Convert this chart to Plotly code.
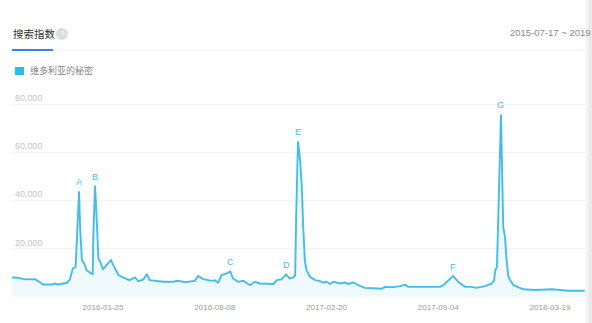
import plotly.graph_objects as go

# ---------------- data ----------------
dates = [
    "2015-08-18", "2015-08-29", "2015-09-10", "2015-09-28", "2015-10-03", "2015-10-12",
    "2015-10-27", "2015-11-02", "2015-11-07", "2015-11-23", "2015-11-28", "2015-12-03",
    "2015-12-08", "2015-12-10", "2015-12-14", "2015-12-16", "2015-12-19", "2015-12-23",
    "2015-12-27", "2016-01-04", "2016-01-07", "2016-01-08", "2016-01-11", "2016-01-14",
    "2016-01-17", "2016-01-20", "2016-01-25", "2016-01-31", "2016-02-08", "2016-02-12",
    "2016-02-21", "2016-03-04", "2016-03-12", "2016-03-21", "2016-03-27", "2016-04-05",
    "2016-04-11", "2016-04-16", "2016-04-25", "2016-05-10", "2016-05-27", "2016-06-02",
    "2016-06-14", "2016-06-20", "2016-07-04", "2016-07-10", "2016-07-19", "2016-08-03",
    "2016-08-08", "2016-08-14", "2016-08-20", "2016-08-29", "2016-09-04", "2016-09-09",
    "2016-09-18", "2016-09-27", "2016-10-09", "2016-10-17", "2016-10-26", "2016-11-19",
    "2016-11-25", "2016-12-03", "2016-12-11", "2016-12-17", "2016-12-24", "2016-12-27",
    "2016-12-29", "2017-01-01", "2017-01-05", "2017-01-08", "2017-01-10", "2017-01-13",
    "2017-01-16", "2017-01-22", "2017-01-31", "2017-02-09", "2017-02-14", "2017-02-20",
    "2017-02-26", "2017-03-04", "2017-03-16", "2017-03-24", "2017-03-30", "2017-04-08",
    "2017-04-17", "2017-04-28", "2017-05-13", "2017-05-28", "2017-06-02", "2017-06-17",
    "2017-06-29", "2017-07-08", "2017-07-13", "2017-07-28", "2017-08-20", "2017-09-07",
    "2017-09-13", "2017-09-21", "2017-09-30", "2017-10-09", "2017-10-21", "2017-11-02",
    "2017-11-10", "2017-11-25", "2017-12-07", "2017-12-11", "2017-12-13", "2017-12-16",
    "2017-12-20", "2017-12-23", "2017-12-27", "2017-12-30", "2018-01-02", "2018-01-05",
    "2018-01-08", "2018-01-14", "2018-01-31", "2018-02-21", "2018-03-22", "2018-04-20",
    "2018-05-19",
]
values = [
    8100, 8000, 7300, 7400, 6600, 5200,
    5200, 5600, 5200, 5900, 7300, 11800,
    12500, 25000, 43800, 28000, 15300, 13900,
    11100, 9800, 9500, 25000, 46200, 32000,
    16000, 14600, 11400, 13200, 15300, 13200,
    9100, 7700, 7000, 8100, 6600, 7300,
    9500, 7000, 6700, 6300, 6300, 6700,
    6300, 6200, 6700, 8700, 7400, 6700,
    6900, 6000, 9100, 9800, 10600, 7700,
    6300, 6700, 4900, 6300, 5600, 5400,
    7000, 7300, 9400, 7700, 8100, 9000,
    35000, 64500, 56000, 44000, 30000, 15000,
    11100, 8400, 7000, 6600, 5900, 6300,
    5400, 6300, 5600, 6000, 5400, 6000,
    4900, 3800, 3600, 3400, 4200, 4100,
    4500, 5100, 4200, 4200, 4500, 4200,
    4900, 6700, 8800, 6300, 4200, 4200,
    3800, 4500, 5600, 7000, 11100, 12500,
    55000, 75700, 29000, 25000, 15000, 8400,
    7000, 4900, 3200, 2900, 3200, 2600,
    2600,
]
series_name = "维多利亚的秘密"

peak_labels = ["A", "B", "C", "D", "E", "F", "G"]
peak_dates = ["2015-12-14", "2016-01-11", "2016-09-04", "2016-12-11",
              "2017-01-01", "2017-09-30", "2017-12-23"]
peak_values = [43800, 46200, 10600, 9400, 64500, 8800, 75700]

x_tick_vals = ["2016-01-25", "2016-08-08", "2017-02-20", "2017-09-04", "2018-03-19"]
y_tick_vals = [20000, 40000, 60000, 80000]
y_tick_text = ["20,000", "40,000", "60,000", "80,000"]

title_text = "搜索指数"
range_text = "2015-07-17 ~ 2019"

# ---------------- layout geometry (pixels) ----------------
W, H = 592, 323
L, R, T, B = 12, 7, 92, 26
PW, PH = W - L - R, H - T - B

def px(xp):
    return (xp - L) / PW

def py(yp):
    return (H - B - yp) / PH

LINE = "#45BCEB"
FONT = "Liberation Sans, Noto Sans CJK SC, sans-serif"

fig = go.Figure()
fig.add_trace(go.Scatter(
    x=dates, y=values, name=series_name, mode="lines",
    line=dict(color=LINE, width=1.9),
    fill="tozeroy", fillcolor="rgba(69,188,235,0.08)",
    showlegend=False, hoverinfo="skip",
))

annotations = []
for lab, d, v in zip(peak_labels, peak_dates, peak_values):
    annotations.append(dict(x=d, y=v, xref="x", yref="y", text=lab, showarrow=False,
                            yanchor="bottom", yshift=2,
                            font=dict(size=9, color=LINE, family=FONT)))

# header
annotations.append(dict(x=px(11), y=py(34), xref="paper", yref="paper", text=title_text,
                        showarrow=False, xanchor="left", yanchor="middle",
                        font=dict(size=10.5, color="#333333", family="Noto Sans CJK SC")))
annotations.append(dict(x=px(62), y=py(34), xref="paper", yref="paper", text="?",
                        showarrow=False, xanchor="center", yanchor="middle",
                        font=dict(size=8, color="#FFFFFF", family=FONT)))
annotations.append(dict(x=px(508), y=py(33), xref="paper", yref="paper", text=range_text,
                        showarrow=False, xanchor="left", yanchor="middle",
                        font=dict(size=9.5, color="#8A8A8A", family=FONT)))
# legend text
annotations.append(dict(x=px(28), y=py(71), xref="paper", yref="paper", text=series_name,
                        showarrow=False, xanchor="left", yanchor="middle",
                        font=dict(size=9, color="#888888", family="Noto Sans CJK SC")))

shapes = [
    # question-mark circle
    dict(type="circle", xref="paper", yref="paper", x0=px(56), x1=px(68), y0=py(40), y1=py(28),
         fillcolor="#DDDDDD", line=dict(width=0), layer="below"),
    # header separator
    dict(type="line", xref="paper", yref="paper", x0=px(12), x1=px(586), y0=py(50), y1=py(50),
         line=dict(color="#EFEFEF", width=1)),
    dict(type="line", xref="paper", yref="paper", x0=px(12), x1=px(53), y0=py(50), y1=py(50),
         line=dict(color="#3D7FE0", width=2)),
    # legend square
    dict(type="rect", xref="paper", yref="paper", x0=px(15), x1=px(24), y0=py(75), y1=py(67),
         fillcolor="#2DB9F2", line=dict(width=0)),
]
# right-edge shade
shade = [(585, 587, "#F8F8F8"), (587, 589, "#F0F0F0"), (589, 592, "#E9E9E9")]
for x0, x1, c in shade:
    shapes.append(dict(type="rect", xref="paper", yref="paper", x0=px(x0), x1=px(x1),
                       y0=py(H), y1=py(0), fillcolor=c, line=dict(width=0), layer="above"))

fig.update_layout(
    width=W, height=H,
    margin=dict(l=L, r=R, t=T, b=B),
    paper_bgcolor="white", plot_bgcolor="white",
    font=dict(family=FONT),
    annotations=annotations, shapes=shapes,
    showlegend=False,
    xaxis=dict(
        type="date",
        range=["2015-08-18 09:36", "2018-05-19 09:36"],
        tickvals=x_tick_vals, ticktext=x_tick_vals,
        showgrid=False, zeroline=False, showline=False, ticks="",
        ticklabelstandoff=4,
        tickfont=dict(size=8, color="#9A9A9A"),
        fixedrange=True,
    ),
    yaxis=dict(
        range=[0, 85000],
        tickvals=y_tick_vals, ticktext=y_tick_text,
        ticklabelposition="inside top",
        showgrid=True, gridcolor="#F4F1F5", gridwidth=1,
        zeroline=False, showline=False, ticks="",
        tickfont=dict(size=9, color="#C4C4C4"),
        fixedrange=True,
    ),
)

fig.write_html("out.html")
